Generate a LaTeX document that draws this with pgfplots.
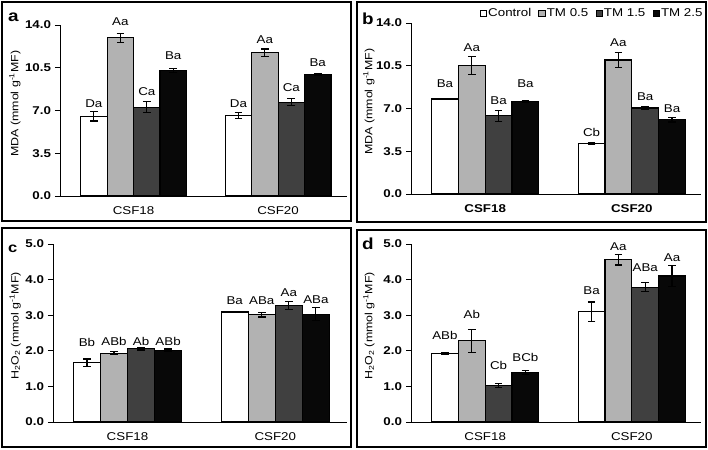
\documentclass[border=0pt]{standalone}
\usepackage{fontspec}
\setmainfont{Liberation Sans}[FakeStretch=1.18]
\usepackage{pgfplots}
\pgfplotsset{compat=1.18}

\definecolor{cA}{RGB}{255,255,255}
\definecolor{cB}{RGB}{178,178,178}
\definecolor{cC}{RGB}{64,64,64}
\definecolor{cD}{RGB}{8,8,8}
\newcommand{\fs}{\fontsize{11.3}{13}\selectfont}
\newcommand{\fy}{\fontsize{10.5}{12}\selectfont}

\pgfplotsset{
 panel/.style={
  scale only axis,
  axis x line*=bottom, axis y line*=left,
  axis line style={-, line width=0.9pt, black},
  xtick={0,1}, xticklabels={CSF18,CSF20},
  x tick style={draw=none},
  xticklabel style={yshift=-2pt, font=\fs},
  ytick pos=left, tick align=outside,
  y tick style={line width=0.9pt, black}, major tick length=5pt,
  yticklabel style={font=\bfseries\fs, xshift=-0.5pt},
  /pgf/number format/fixed, /pgf/number format/fixed zerofill,
  /pgf/number format/precision=1, /pgf/number format/assume math mode=true,
  ymin=0, clip=false,
  ylabel style={anchor=center, font=\fy},
 },
 bar/.style={ybar, bar shift=0pt, bar width=0.183, draw=black, line width=1.1pt, fill=#1,
  error bars/y dir=both, error bars/y explicit,
  error bars/error bar style={line width=1.2pt, black},
  error bars/error mark options={rotate=90, mark size=3.8pt, line width=1.2pt, black},
  legend image code/.code={\draw[##1, line width=0.8pt] (0pt,-3.2pt) rectangle (6.4pt,3.2pt);}},
 lab/.style={only marks, mark=none, forget plot, nodes near coords, point meta=explicit symbolic,
  nodes near coords style={anchor=south, inner sep=0pt, font=\fs, black}},
}

\begin{document}
\begin{tikzpicture}
\useasboundingbox (0pt,0pt) rectangle (708pt,449pt);
% frames
\draw[line width=1.7pt] (2pt,228pt) rectangle (351pt,447pt);
\draw[line width=1.7pt] (357pt,227pt) rectangle (706pt,447pt);
\draw[line width=1.7pt] (2pt,2pt) rectangle (351pt,221pt);
\draw[line width=1.7pt] (357pt,2pt) rectangle (706pt,219pt);
% panel letters
\node[anchor=base west, font=\bfseries\fontsize{16}{18}\selectfont, inner sep=0pt] at (8pt,427pt) {a};
\node[anchor=base west, font=\bfseries\fontsize{16}{18}\selectfont, inner sep=0pt] at (362pt,424pt) {b};
\node[anchor=base west, font=\bfseries\fontsize{14}{16}\selectfont, inner sep=0pt] at (8pt,196pt) {c};
\node[anchor=base west, font=\bfseries\fontsize{16}{18}\selectfont, inner sep=0pt] at (362pt,199pt) {d};

% ---------- panel a ----------
\begin{axis}[panel, at={(60pt,253pt)}, anchor=south west, width=287pt, height=171pt,
  xmin=-0.509, xmax=1.477, ymax=14, ytick={0,3.5,7,10.5,14},
  ylabel={MDA (mmol g\textsuperscript{-1}MF)},
  ylabel style={at={(axis description cs:-0.157,0.54)}}]
\addplot[bar=cA] coordinates {(-0.2745,6.52) +- (0,0.38) (0.7255,6.58) +- (0,0.23)};
\addplot[bar=cB] coordinates {(-0.0915,12.96) +- (0,0.37) (0.9085,11.74) +- (0,0.30)};
\addplot[bar=cC] coordinates {(0.0915,7.28) +- (0,0.47) (1.0915,7.69) +- (0,0.29)};
\addplot[bar=cD] coordinates {(0.2745,10.27) +- (0,0.14) (1.2745,9.92) +- (0,0.07)};
\addplot[lab] coordinates {(-0.2745,7.2) [Da] (-0.0915,13.9) [Aa] (0.0915,8.23) [Ca] (0.2745,11.14) [Ba]
  (0.7255,7.2) [Da] (0.9085,12.42) [Aa] (1.0915,8.56) [Ca] (1.2745,10.6) [Ba]};
\end{axis}

% ---------- panel b ----------
\begin{axis}[panel, at={(411pt,255pt)}, anchor=south west, width=290pt, height=171pt,
  xmin=-0.506, xmax=1.472, ymax=14, ytick={0,3.5,7,10.5,14},
  xticklabel style={font=\bfseries\fs},
  ylabel={MDA (mmol g\textsuperscript{-1}MF)},
  ylabel style={at={(axis description cs:-0.145,0.54)}},
  legend style={at={(rel axis cs:1.01,1.055)}, anchor=east, draw=none, fill=none,
    legend columns=4, inner sep=0pt, font=\fs,
    nodes={inner xsep=1.2pt},
    /tikz/every even column/.append style={column sep=6pt}},
  legend cell align=left]
\addplot[bar=cA] coordinates {(-0.2745,7.78) +- (0,0.07) (0.7255,4.12) +- (0,0.10)};
\addlegendentry{Control}
\addplot[bar=cB] coordinates {(-0.0915,10.51) +- (0,0.72) (0.9085,10.97) +- (0,0.64)};
\addlegendentry{TM 0.5}
\addplot[bar=cC] coordinates {(0.0915,6.41) +- (0,0.45) (1.0915,7.04) +- (0,0.10)};
\addlegendentry{TM 1.5}
\addplot[bar=cD] coordinates {(0.2745,7.56) +- (0,0.05) (1.2745,6.09) +- (0,0.20)};
\addlegendentry{TM 2.5}
\addplot[lab] coordinates {(-0.2745,8.68) [Ba] (-0.0915,11.68) [Aa] (0.0915,7.31) [Ba] (0.2745,8.68) [Ba]
  (0.7255,4.67) [Cb] (0.9085,12.09) [Aa] (1.0915,7.59) [Ba] (1.2745,6.63) [Ba]};
\end{axis}

% ---------- panel c ----------
\begin{axis}[panel, at={(53pt,27pt)}, anchor=south west, width=294pt, height=178pt,
  xmin=-0.504, xmax=1.485, ymax=5, ytick={0,1,2,3,4,5},
  ylabel={H\textsubscript{2}O\textsubscript{2} (mmol g\textsuperscript{-1}MF)},
  ylabel style={at={(axis description cs:-0.129,0.54)}}]
\addplot[bar=cA] coordinates {(-0.2745,1.67) +- (0,0.10) (0.7255,3.09) +- (0,0.02)};
\addplot[bar=cB] coordinates {(-0.0915,1.93) +- (0,0.04) (0.9085,3.01) +- (0,0.06)};
\addplot[bar=cC] coordinates {(0.0915,2.06) +- (0,0.04) (1.0915,3.28) +- (0,0.11)};
\addplot[bar=cD] coordinates {(0.2745,2.02) +- (0,0.03) (1.2745,3.03) +- (0,0.18)};
\addplot[lab] coordinates {(-0.2745,2.12) [Bb] (-0.0915,2.15) [ABb] (0.0915,2.15) [Ab] (0.2745,2.15) [ABb]
  (0.7255,3.29) [Ba] (0.9085,3.29) [ABa] (1.0915,3.52) [Aa] (1.2745,3.31) [ABa]};
\end{axis}

% ---------- panel d ----------
\begin{axis}[panel, at={(411pt,27pt)}, anchor=south west, width=290pt, height=178pt,
  xmin=-0.506, xmax=1.472, ymax=5, ytick={0,1,2,3,4,5},
  ylabel={H\textsubscript{2}O\textsubscript{2} (mmol g\textsuperscript{-1}MF)},
  ylabel style={at={(axis description cs:-0.145,0.54)}}]
\addplot[bar=cA] coordinates {(-0.2745,1.92) +- (0,0.02) (0.7255,3.10) +- (0,0.27)};
\addplot[bar=cB] coordinates {(-0.0915,2.28) +- (0,0.32) (0.9085,4.56) +- (0,0.15)};
\addplot[bar=cC] coordinates {(0.0915,1.03) +- (0,0.05) (1.0915,3.79) +- (0,0.13)};
\addplot[bar=cD] coordinates {(0.2745,1.39) +- (0,0.05) (1.2745,4.10) +- (0,0.29)};
\addplot[lab] coordinates {(-0.2745,2.31) [ABb] (-0.0915,2.90) [Ab] (0.0915,1.47) [Cb] (0.2745,1.70) [BCb]
  (0.7255,3.57) [Ba] (0.9085,4.80) [Aa] (1.0915,4.21) [ABa] (1.2745,4.50) [Aa]};
\end{axis}
\end{tikzpicture}
\end{document}
